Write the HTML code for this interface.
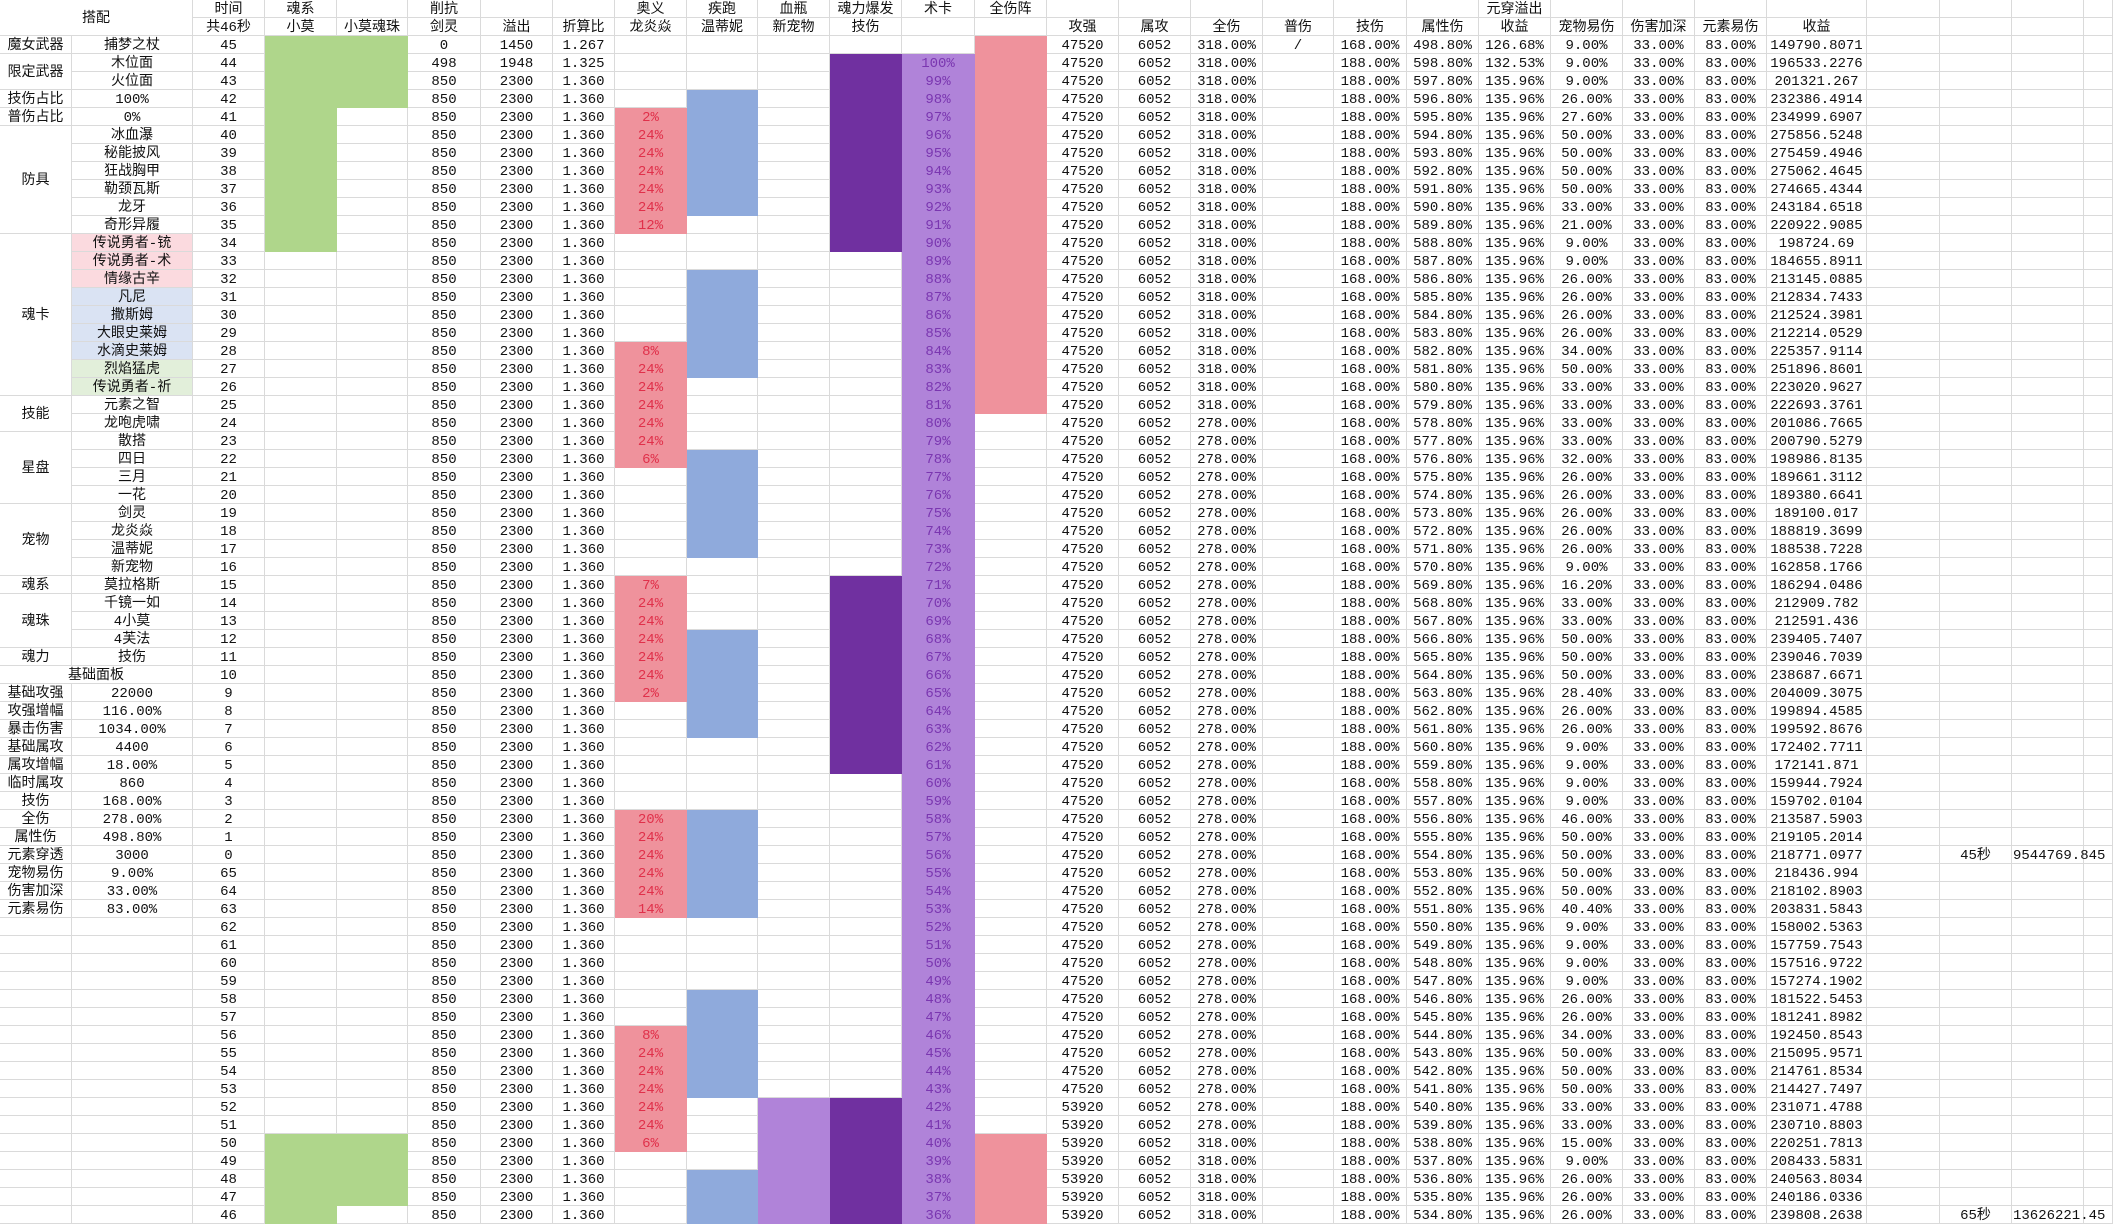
<!DOCTYPE html>
<html><head><meta charset="utf-8">
<style>
html,body{margin:0;padding:0;background:#fff;width:2113px;height:1226px;overflow:hidden}
table{border-collapse:separate;border-spacing:0;table-layout:fixed;width:2113px}
tr{height:18px}
td{box-sizing:border-box;height:18px;padding:3px 0 0 0;border-right:1px solid #dadada;border-bottom:1px solid #dadada;text-align:center;vertical-align:middle;white-space:nowrap;overflow:hidden;font-family:"Liberation Mono","Noto Sans CJK SC",sans-serif;font-size:14px;line-height:14px;color:#111}
.g{background:#afd68b;border-color:#afd68b}
.b{background:#8faadc;border-color:#8faadc}
.p{background:#ef929c;border-color:#ef929c;color:#e0304a}
.dp{background:#7030a0;border-color:#7030a0}
.lp{background:#b083d9;border-color:#b083d9;color:#7a36b0}
.k{background:#b083d9;border-color:#b083d9}
.pn{background:#fbdadf}
.bn{background:#dae3f3}
.gn{background:#e2efda}
.o{overflow:visible;text-align:left;padding-left:1px}
</style></head><body>
<table>
<colgroup>
<col style="width:72px"><col style="width:121px"><col style="width:72px"><col style="width:72px"><col style="width:71px"><col style="width:73px"><col style="width:72px"><col style="width:62px"><col style="width:72px"><col style="width:71px"><col style="width:72px"><col style="width:72px"><col style="width:73px"><col style="width:72px"><col style="width:72px"><col style="width:72px"><col style="width:72px"><col style="width:71px"><col style="width:73px"><col style="width:72px"><col style="width:72px"><col style="width:72px"><col style="width:72px"><col style="width:72px"><col style="width:100px"><col style="width:73px"><col style="width:72px"><col style="width:72px"><col style="width:29px">
</colgroup>
<tr><td colspan="2" rowspan="2" style="height:36px">搭配</td><td>时间</td><td>魂系</td><td></td><td>削抗</td><td></td><td></td><td>奥义</td><td>疾跑</td><td>血瓶</td><td>魂力爆发</td><td>术卡</td><td>全伤阵</td><td></td><td></td><td></td><td></td><td></td><td></td><td>元穿溢出</td><td></td><td></td><td></td><td></td><td></td><td></td><td></td><td></td></tr>
<tr><td>共46秒</td><td>小莫</td><td>小莫魂珠</td><td>剑灵</td><td>溢出</td><td>折算比</td><td>龙炎焱</td><td>温蒂妮</td><td>新宠物</td><td>技伤</td><td></td><td></td><td>攻强</td><td>属攻</td><td>全伤</td><td>普伤</td><td>技伤</td><td>属性伤</td><td>收益</td><td>宠物易伤</td><td>伤害加深</td><td>元素易伤</td><td>收益</td><td></td><td></td><td></td><td></td></tr>
<tr><td>魔女武器</td><td>捕梦之杖</td><td>45</td><td class="g"></td><td class="g"></td><td>0</td><td>1450</td><td>1.267</td><td></td><td></td><td></td><td></td><td></td><td class="p"></td><td>47520</td><td>6052</td><td>318.00%</td><td>/</td><td>168.00%</td><td>498.80%</td><td>126.68%</td><td>9.00%</td><td>33.00%</td><td>83.00%</td><td>149790.8071</td><td></td><td></td><td></td><td></td></tr>
<tr><td rowspan="2">限定武器</td><td>木位面</td><td>44</td><td class="g"></td><td class="g"></td><td>498</td><td>1948</td><td>1.325</td><td></td><td></td><td></td><td class="dp"></td><td class="lp">100%</td><td class="p"></td><td>47520</td><td>6052</td><td>318.00%</td><td></td><td>188.00%</td><td>598.80%</td><td>132.53%</td><td>9.00%</td><td>33.00%</td><td>83.00%</td><td>196533.2276</td><td></td><td></td><td></td><td></td></tr>
<tr><td>火位面</td><td>43</td><td class="g"></td><td class="g"></td><td>850</td><td>2300</td><td>1.360</td><td></td><td></td><td></td><td class="dp"></td><td class="lp">99%</td><td class="p"></td><td>47520</td><td>6052</td><td>318.00%</td><td></td><td>188.00%</td><td>597.80%</td><td>135.96%</td><td>9.00%</td><td>33.00%</td><td>83.00%</td><td>201321.267</td><td></td><td></td><td></td><td></td></tr>
<tr><td>技伤占比</td><td>100%</td><td>42</td><td class="g"></td><td class="g"></td><td>850</td><td>2300</td><td>1.360</td><td></td><td class="b"></td><td></td><td class="dp"></td><td class="lp">98%</td><td class="p"></td><td>47520</td><td>6052</td><td>318.00%</td><td></td><td>188.00%</td><td>596.80%</td><td>135.96%</td><td>26.00%</td><td>33.00%</td><td>83.00%</td><td>232386.4914</td><td></td><td></td><td></td><td></td></tr>
<tr><td>普伤占比</td><td>0%</td><td>41</td><td class="g"></td><td></td><td>850</td><td>2300</td><td>1.360</td><td class="p">2%</td><td class="b"></td><td></td><td class="dp"></td><td class="lp">97%</td><td class="p"></td><td>47520</td><td>6052</td><td>318.00%</td><td></td><td>188.00%</td><td>595.80%</td><td>135.96%</td><td>27.60%</td><td>33.00%</td><td>83.00%</td><td>234999.6907</td><td></td><td></td><td></td><td></td></tr>
<tr><td rowspan="6">防具</td><td>冰血瀑</td><td>40</td><td class="g"></td><td></td><td>850</td><td>2300</td><td>1.360</td><td class="p">24%</td><td class="b"></td><td></td><td class="dp"></td><td class="lp">96%</td><td class="p"></td><td>47520</td><td>6052</td><td>318.00%</td><td></td><td>188.00%</td><td>594.80%</td><td>135.96%</td><td>50.00%</td><td>33.00%</td><td>83.00%</td><td>275856.5248</td><td></td><td></td><td></td><td></td></tr>
<tr><td>秘能披风</td><td>39</td><td class="g"></td><td></td><td>850</td><td>2300</td><td>1.360</td><td class="p">24%</td><td class="b"></td><td></td><td class="dp"></td><td class="lp">95%</td><td class="p"></td><td>47520</td><td>6052</td><td>318.00%</td><td></td><td>188.00%</td><td>593.80%</td><td>135.96%</td><td>50.00%</td><td>33.00%</td><td>83.00%</td><td>275459.4946</td><td></td><td></td><td></td><td></td></tr>
<tr><td>狂战胸甲</td><td>38</td><td class="g"></td><td></td><td>850</td><td>2300</td><td>1.360</td><td class="p">24%</td><td class="b"></td><td></td><td class="dp"></td><td class="lp">94%</td><td class="p"></td><td>47520</td><td>6052</td><td>318.00%</td><td></td><td>188.00%</td><td>592.80%</td><td>135.96%</td><td>50.00%</td><td>33.00%</td><td>83.00%</td><td>275062.4645</td><td></td><td></td><td></td><td></td></tr>
<tr><td>勒颈瓦斯</td><td>37</td><td class="g"></td><td></td><td>850</td><td>2300</td><td>1.360</td><td class="p">24%</td><td class="b"></td><td></td><td class="dp"></td><td class="lp">93%</td><td class="p"></td><td>47520</td><td>6052</td><td>318.00%</td><td></td><td>188.00%</td><td>591.80%</td><td>135.96%</td><td>50.00%</td><td>33.00%</td><td>83.00%</td><td>274665.4344</td><td></td><td></td><td></td><td></td></tr>
<tr><td>龙牙</td><td>36</td><td class="g"></td><td></td><td>850</td><td>2300</td><td>1.360</td><td class="p">24%</td><td class="b"></td><td></td><td class="dp"></td><td class="lp">92%</td><td class="p"></td><td>47520</td><td>6052</td><td>318.00%</td><td></td><td>188.00%</td><td>590.80%</td><td>135.96%</td><td>33.00%</td><td>33.00%</td><td>83.00%</td><td>243184.6518</td><td></td><td></td><td></td><td></td></tr>
<tr><td>奇形异履</td><td>35</td><td class="g"></td><td></td><td>850</td><td>2300</td><td>1.360</td><td class="p">12%</td><td></td><td></td><td class="dp"></td><td class="lp">91%</td><td class="p"></td><td>47520</td><td>6052</td><td>318.00%</td><td></td><td>188.00%</td><td>589.80%</td><td>135.96%</td><td>21.00%</td><td>33.00%</td><td>83.00%</td><td>220922.9085</td><td></td><td></td><td></td><td></td></tr>
<tr><td rowspan="9">魂卡</td><td class="pn">传说勇者-铳</td><td>34</td><td class="g"></td><td></td><td>850</td><td>2300</td><td>1.360</td><td></td><td></td><td></td><td class="dp"></td><td class="lp">90%</td><td class="p"></td><td>47520</td><td>6052</td><td>318.00%</td><td></td><td>188.00%</td><td>588.80%</td><td>135.96%</td><td>9.00%</td><td>33.00%</td><td>83.00%</td><td>198724.69</td><td></td><td></td><td></td><td></td></tr>
<tr><td class="pn">传说勇者-术</td><td>33</td><td></td><td></td><td>850</td><td>2300</td><td>1.360</td><td></td><td></td><td></td><td></td><td class="lp">89%</td><td class="p"></td><td>47520</td><td>6052</td><td>318.00%</td><td></td><td>168.00%</td><td>587.80%</td><td>135.96%</td><td>9.00%</td><td>33.00%</td><td>83.00%</td><td>184655.8911</td><td></td><td></td><td></td><td></td></tr>
<tr><td class="pn">情缘古辛</td><td>32</td><td></td><td></td><td>850</td><td>2300</td><td>1.360</td><td></td><td class="b"></td><td></td><td></td><td class="lp">88%</td><td class="p"></td><td>47520</td><td>6052</td><td>318.00%</td><td></td><td>168.00%</td><td>586.80%</td><td>135.96%</td><td>26.00%</td><td>33.00%</td><td>83.00%</td><td>213145.0885</td><td></td><td></td><td></td><td></td></tr>
<tr><td class="bn">凡尼</td><td>31</td><td></td><td></td><td>850</td><td>2300</td><td>1.360</td><td></td><td class="b"></td><td></td><td></td><td class="lp">87%</td><td class="p"></td><td>47520</td><td>6052</td><td>318.00%</td><td></td><td>168.00%</td><td>585.80%</td><td>135.96%</td><td>26.00%</td><td>33.00%</td><td>83.00%</td><td>212834.7433</td><td></td><td></td><td></td><td></td></tr>
<tr><td class="bn">撒斯姆</td><td>30</td><td></td><td></td><td>850</td><td>2300</td><td>1.360</td><td></td><td class="b"></td><td></td><td></td><td class="lp">86%</td><td class="p"></td><td>47520</td><td>6052</td><td>318.00%</td><td></td><td>168.00%</td><td>584.80%</td><td>135.96%</td><td>26.00%</td><td>33.00%</td><td>83.00%</td><td>212524.3981</td><td></td><td></td><td></td><td></td></tr>
<tr><td class="bn">大眼史莱姆</td><td>29</td><td></td><td></td><td>850</td><td>2300</td><td>1.360</td><td></td><td class="b"></td><td></td><td></td><td class="lp">85%</td><td class="p"></td><td>47520</td><td>6052</td><td>318.00%</td><td></td><td>168.00%</td><td>583.80%</td><td>135.96%</td><td>26.00%</td><td>33.00%</td><td>83.00%</td><td>212214.0529</td><td></td><td></td><td></td><td></td></tr>
<tr><td class="bn">水滴史莱姆</td><td>28</td><td></td><td></td><td>850</td><td>2300</td><td>1.360</td><td class="p">8%</td><td class="b"></td><td></td><td></td><td class="lp">84%</td><td class="p"></td><td>47520</td><td>6052</td><td>318.00%</td><td></td><td>168.00%</td><td>582.80%</td><td>135.96%</td><td>34.00%</td><td>33.00%</td><td>83.00%</td><td>225357.9114</td><td></td><td></td><td></td><td></td></tr>
<tr><td class="gn">烈焰猛虎</td><td>27</td><td></td><td></td><td>850</td><td>2300</td><td>1.360</td><td class="p">24%</td><td class="b"></td><td></td><td></td><td class="lp">83%</td><td class="p"></td><td>47520</td><td>6052</td><td>318.00%</td><td></td><td>168.00%</td><td>581.80%</td><td>135.96%</td><td>50.00%</td><td>33.00%</td><td>83.00%</td><td>251896.8601</td><td></td><td></td><td></td><td></td></tr>
<tr><td class="gn">传说勇者-祈</td><td>26</td><td></td><td></td><td>850</td><td>2300</td><td>1.360</td><td class="p">24%</td><td></td><td></td><td></td><td class="lp">82%</td><td class="p"></td><td>47520</td><td>6052</td><td>318.00%</td><td></td><td>168.00%</td><td>580.80%</td><td>135.96%</td><td>33.00%</td><td>33.00%</td><td>83.00%</td><td>223020.9627</td><td></td><td></td><td></td><td></td></tr>
<tr><td rowspan="2">技能</td><td>元素之智</td><td>25</td><td></td><td></td><td>850</td><td>2300</td><td>1.360</td><td class="p">24%</td><td></td><td></td><td></td><td class="lp">81%</td><td class="p"></td><td>47520</td><td>6052</td><td>318.00%</td><td></td><td>168.00%</td><td>579.80%</td><td>135.96%</td><td>33.00%</td><td>33.00%</td><td>83.00%</td><td>222693.3761</td><td></td><td></td><td></td><td></td></tr>
<tr><td>龙咆虎啸</td><td>24</td><td></td><td></td><td>850</td><td>2300</td><td>1.360</td><td class="p">24%</td><td></td><td></td><td></td><td class="lp">80%</td><td></td><td>47520</td><td>6052</td><td>278.00%</td><td></td><td>168.00%</td><td>578.80%</td><td>135.96%</td><td>33.00%</td><td>33.00%</td><td>83.00%</td><td>201086.7665</td><td></td><td></td><td></td><td></td></tr>
<tr><td rowspan="4">星盘</td><td>散搭</td><td>23</td><td></td><td></td><td>850</td><td>2300</td><td>1.360</td><td class="p">24%</td><td></td><td></td><td></td><td class="lp">79%</td><td></td><td>47520</td><td>6052</td><td>278.00%</td><td></td><td>168.00%</td><td>577.80%</td><td>135.96%</td><td>33.00%</td><td>33.00%</td><td>83.00%</td><td>200790.5279</td><td></td><td></td><td></td><td></td></tr>
<tr><td>四日</td><td>22</td><td></td><td></td><td>850</td><td>2300</td><td>1.360</td><td class="p">6%</td><td class="b"></td><td></td><td></td><td class="lp">78%</td><td></td><td>47520</td><td>6052</td><td>278.00%</td><td></td><td>168.00%</td><td>576.80%</td><td>135.96%</td><td>32.00%</td><td>33.00%</td><td>83.00%</td><td>198986.8135</td><td></td><td></td><td></td><td></td></tr>
<tr><td>三月</td><td>21</td><td></td><td></td><td>850</td><td>2300</td><td>1.360</td><td></td><td class="b"></td><td></td><td></td><td class="lp">77%</td><td></td><td>47520</td><td>6052</td><td>278.00%</td><td></td><td>168.00%</td><td>575.80%</td><td>135.96%</td><td>26.00%</td><td>33.00%</td><td>83.00%</td><td>189661.3112</td><td></td><td></td><td></td><td></td></tr>
<tr><td>一花</td><td>20</td><td></td><td></td><td>850</td><td>2300</td><td>1.360</td><td></td><td class="b"></td><td></td><td></td><td class="lp">76%</td><td></td><td>47520</td><td>6052</td><td>278.00%</td><td></td><td>168.00%</td><td>574.80%</td><td>135.96%</td><td>26.00%</td><td>33.00%</td><td>83.00%</td><td>189380.6641</td><td></td><td></td><td></td><td></td></tr>
<tr><td rowspan="4">宠物</td><td>剑灵</td><td>19</td><td></td><td></td><td>850</td><td>2300</td><td>1.360</td><td></td><td class="b"></td><td></td><td></td><td class="lp">75%</td><td></td><td>47520</td><td>6052</td><td>278.00%</td><td></td><td>168.00%</td><td>573.80%</td><td>135.96%</td><td>26.00%</td><td>33.00%</td><td>83.00%</td><td>189100.017</td><td></td><td></td><td></td><td></td></tr>
<tr><td>龙炎焱</td><td>18</td><td></td><td></td><td>850</td><td>2300</td><td>1.360</td><td></td><td class="b"></td><td></td><td></td><td class="lp">74%</td><td></td><td>47520</td><td>6052</td><td>278.00%</td><td></td><td>168.00%</td><td>572.80%</td><td>135.96%</td><td>26.00%</td><td>33.00%</td><td>83.00%</td><td>188819.3699</td><td></td><td></td><td></td><td></td></tr>
<tr><td>温蒂妮</td><td>17</td><td></td><td></td><td>850</td><td>2300</td><td>1.360</td><td></td><td class="b"></td><td></td><td></td><td class="lp">73%</td><td></td><td>47520</td><td>6052</td><td>278.00%</td><td></td><td>168.00%</td><td>571.80%</td><td>135.96%</td><td>26.00%</td><td>33.00%</td><td>83.00%</td><td>188538.7228</td><td></td><td></td><td></td><td></td></tr>
<tr><td>新宠物</td><td>16</td><td></td><td></td><td>850</td><td>2300</td><td>1.360</td><td></td><td></td><td></td><td></td><td class="lp">72%</td><td></td><td>47520</td><td>6052</td><td>278.00%</td><td></td><td>168.00%</td><td>570.80%</td><td>135.96%</td><td>9.00%</td><td>33.00%</td><td>83.00%</td><td>162858.1766</td><td></td><td></td><td></td><td></td></tr>
<tr><td>魂系</td><td>莫拉格斯</td><td>15</td><td></td><td></td><td>850</td><td>2300</td><td>1.360</td><td class="p">7%</td><td></td><td></td><td class="dp"></td><td class="lp">71%</td><td></td><td>47520</td><td>6052</td><td>278.00%</td><td></td><td>188.00%</td><td>569.80%</td><td>135.96%</td><td>16.20%</td><td>33.00%</td><td>83.00%</td><td>186294.0486</td><td></td><td></td><td></td><td></td></tr>
<tr><td rowspan="3">魂珠</td><td>千镜一如</td><td>14</td><td></td><td></td><td>850</td><td>2300</td><td>1.360</td><td class="p">24%</td><td></td><td></td><td class="dp"></td><td class="lp">70%</td><td></td><td>47520</td><td>6052</td><td>278.00%</td><td></td><td>188.00%</td><td>568.80%</td><td>135.96%</td><td>33.00%</td><td>33.00%</td><td>83.00%</td><td>212909.782</td><td></td><td></td><td></td><td></td></tr>
<tr><td>4小莫</td><td>13</td><td></td><td></td><td>850</td><td>2300</td><td>1.360</td><td class="p">24%</td><td></td><td></td><td class="dp"></td><td class="lp">69%</td><td></td><td>47520</td><td>6052</td><td>278.00%</td><td></td><td>188.00%</td><td>567.80%</td><td>135.96%</td><td>33.00%</td><td>33.00%</td><td>83.00%</td><td>212591.436</td><td></td><td></td><td></td><td></td></tr>
<tr><td>4芙法</td><td>12</td><td></td><td></td><td>850</td><td>2300</td><td>1.360</td><td class="p">24%</td><td class="b"></td><td></td><td class="dp"></td><td class="lp">68%</td><td></td><td>47520</td><td>6052</td><td>278.00%</td><td></td><td>188.00%</td><td>566.80%</td><td>135.96%</td><td>50.00%</td><td>33.00%</td><td>83.00%</td><td>239405.7407</td><td></td><td></td><td></td><td></td></tr>
<tr><td>魂力</td><td>技伤</td><td>11</td><td></td><td></td><td>850</td><td>2300</td><td>1.360</td><td class="p">24%</td><td class="b"></td><td></td><td class="dp"></td><td class="lp">67%</td><td></td><td>47520</td><td>6052</td><td>278.00%</td><td></td><td>188.00%</td><td>565.80%</td><td>135.96%</td><td>50.00%</td><td>33.00%</td><td>83.00%</td><td>239046.7039</td><td></td><td></td><td></td><td></td></tr>
<tr><td colspan="2">基础面板</td><td>10</td><td></td><td></td><td>850</td><td>2300</td><td>1.360</td><td class="p">24%</td><td class="b"></td><td></td><td class="dp"></td><td class="lp">66%</td><td></td><td>47520</td><td>6052</td><td>278.00%</td><td></td><td>188.00%</td><td>564.80%</td><td>135.96%</td><td>50.00%</td><td>33.00%</td><td>83.00%</td><td>238687.6671</td><td></td><td></td><td></td><td></td></tr>
<tr><td>基础攻强</td><td>22000</td><td>9</td><td></td><td></td><td>850</td><td>2300</td><td>1.360</td><td class="p">2%</td><td class="b"></td><td></td><td class="dp"></td><td class="lp">65%</td><td></td><td>47520</td><td>6052</td><td>278.00%</td><td></td><td>188.00%</td><td>563.80%</td><td>135.96%</td><td>28.40%</td><td>33.00%</td><td>83.00%</td><td>204009.3075</td><td></td><td></td><td></td><td></td></tr>
<tr><td>攻强增幅</td><td>116.00%</td><td>8</td><td></td><td></td><td>850</td><td>2300</td><td>1.360</td><td></td><td class="b"></td><td></td><td class="dp"></td><td class="lp">64%</td><td></td><td>47520</td><td>6052</td><td>278.00%</td><td></td><td>188.00%</td><td>562.80%</td><td>135.96%</td><td>26.00%</td><td>33.00%</td><td>83.00%</td><td>199894.4585</td><td></td><td></td><td></td><td></td></tr>
<tr><td>暴击伤害</td><td>1034.00%</td><td>7</td><td></td><td></td><td>850</td><td>2300</td><td>1.360</td><td></td><td class="b"></td><td></td><td class="dp"></td><td class="lp">63%</td><td></td><td>47520</td><td>6052</td><td>278.00%</td><td></td><td>188.00%</td><td>561.80%</td><td>135.96%</td><td>26.00%</td><td>33.00%</td><td>83.00%</td><td>199592.8676</td><td></td><td></td><td></td><td></td></tr>
<tr><td>基础属攻</td><td>4400</td><td>6</td><td></td><td></td><td>850</td><td>2300</td><td>1.360</td><td></td><td></td><td></td><td class="dp"></td><td class="lp">62%</td><td></td><td>47520</td><td>6052</td><td>278.00%</td><td></td><td>188.00%</td><td>560.80%</td><td>135.96%</td><td>9.00%</td><td>33.00%</td><td>83.00%</td><td>172402.7711</td><td></td><td></td><td></td><td></td></tr>
<tr><td>属攻增幅</td><td>18.00%</td><td>5</td><td></td><td></td><td>850</td><td>2300</td><td>1.360</td><td></td><td></td><td></td><td class="dp"></td><td class="lp">61%</td><td></td><td>47520</td><td>6052</td><td>278.00%</td><td></td><td>188.00%</td><td>559.80%</td><td>135.96%</td><td>9.00%</td><td>33.00%</td><td>83.00%</td><td>172141.871</td><td></td><td></td><td></td><td></td></tr>
<tr><td>临时属攻</td><td>860</td><td>4</td><td></td><td></td><td>850</td><td>2300</td><td>1.360</td><td></td><td></td><td></td><td></td><td class="lp">60%</td><td></td><td>47520</td><td>6052</td><td>278.00%</td><td></td><td>168.00%</td><td>558.80%</td><td>135.96%</td><td>9.00%</td><td>33.00%</td><td>83.00%</td><td>159944.7924</td><td></td><td></td><td></td><td></td></tr>
<tr><td>技伤</td><td>168.00%</td><td>3</td><td></td><td></td><td>850</td><td>2300</td><td>1.360</td><td></td><td></td><td></td><td></td><td class="lp">59%</td><td></td><td>47520</td><td>6052</td><td>278.00%</td><td></td><td>168.00%</td><td>557.80%</td><td>135.96%</td><td>9.00%</td><td>33.00%</td><td>83.00%</td><td>159702.0104</td><td></td><td></td><td></td><td></td></tr>
<tr><td>全伤</td><td>278.00%</td><td>2</td><td></td><td></td><td>850</td><td>2300</td><td>1.360</td><td class="p">20%</td><td class="b"></td><td></td><td></td><td class="lp">58%</td><td></td><td>47520</td><td>6052</td><td>278.00%</td><td></td><td>168.00%</td><td>556.80%</td><td>135.96%</td><td>46.00%</td><td>33.00%</td><td>83.00%</td><td>213587.5903</td><td></td><td></td><td></td><td></td></tr>
<tr><td>属性伤</td><td>498.80%</td><td>1</td><td></td><td></td><td>850</td><td>2300</td><td>1.360</td><td class="p">24%</td><td class="b"></td><td></td><td></td><td class="lp">57%</td><td></td><td>47520</td><td>6052</td><td>278.00%</td><td></td><td>168.00%</td><td>555.80%</td><td>135.96%</td><td>50.00%</td><td>33.00%</td><td>83.00%</td><td>219105.2014</td><td></td><td></td><td></td><td></td></tr>
<tr><td>元素穿透</td><td>3000</td><td>0</td><td></td><td></td><td>850</td><td>2300</td><td>1.360</td><td class="p">24%</td><td class="b"></td><td></td><td></td><td class="lp">56%</td><td></td><td>47520</td><td>6052</td><td>278.00%</td><td></td><td>168.00%</td><td>554.80%</td><td>135.96%</td><td>50.00%</td><td>33.00%</td><td>83.00%</td><td>218771.0977</td><td></td><td>45秒</td><td class="o">9544769.845</td><td></td></tr>
<tr><td>宠物易伤</td><td>9.00%</td><td>65</td><td></td><td></td><td>850</td><td>2300</td><td>1.360</td><td class="p">24%</td><td class="b"></td><td></td><td></td><td class="lp">55%</td><td></td><td>47520</td><td>6052</td><td>278.00%</td><td></td><td>168.00%</td><td>553.80%</td><td>135.96%</td><td>50.00%</td><td>33.00%</td><td>83.00%</td><td>218436.994</td><td></td><td></td><td></td><td></td></tr>
<tr><td>伤害加深</td><td>33.00%</td><td>64</td><td></td><td></td><td>850</td><td>2300</td><td>1.360</td><td class="p">24%</td><td class="b"></td><td></td><td></td><td class="lp">54%</td><td></td><td>47520</td><td>6052</td><td>278.00%</td><td></td><td>168.00%</td><td>552.80%</td><td>135.96%</td><td>50.00%</td><td>33.00%</td><td>83.00%</td><td>218102.8903</td><td></td><td></td><td></td><td></td></tr>
<tr><td>元素易伤</td><td>83.00%</td><td>63</td><td></td><td></td><td>850</td><td>2300</td><td>1.360</td><td class="p">14%</td><td class="b"></td><td></td><td></td><td class="lp">53%</td><td></td><td>47520</td><td>6052</td><td>278.00%</td><td></td><td>168.00%</td><td>551.80%</td><td>135.96%</td><td>40.40%</td><td>33.00%</td><td>83.00%</td><td>203831.5843</td><td></td><td></td><td></td><td></td></tr>
<tr><td></td><td></td><td>62</td><td></td><td></td><td>850</td><td>2300</td><td>1.360</td><td></td><td></td><td></td><td></td><td class="lp">52%</td><td></td><td>47520</td><td>6052</td><td>278.00%</td><td></td><td>168.00%</td><td>550.80%</td><td>135.96%</td><td>9.00%</td><td>33.00%</td><td>83.00%</td><td>158002.5363</td><td></td><td></td><td></td><td></td></tr>
<tr><td></td><td></td><td>61</td><td></td><td></td><td>850</td><td>2300</td><td>1.360</td><td></td><td></td><td></td><td></td><td class="lp">51%</td><td></td><td>47520</td><td>6052</td><td>278.00%</td><td></td><td>168.00%</td><td>549.80%</td><td>135.96%</td><td>9.00%</td><td>33.00%</td><td>83.00%</td><td>157759.7543</td><td></td><td></td><td></td><td></td></tr>
<tr><td></td><td></td><td>60</td><td></td><td></td><td>850</td><td>2300</td><td>1.360</td><td></td><td></td><td></td><td></td><td class="lp">50%</td><td></td><td>47520</td><td>6052</td><td>278.00%</td><td></td><td>168.00%</td><td>548.80%</td><td>135.96%</td><td>9.00%</td><td>33.00%</td><td>83.00%</td><td>157516.9722</td><td></td><td></td><td></td><td></td></tr>
<tr><td></td><td></td><td>59</td><td></td><td></td><td>850</td><td>2300</td><td>1.360</td><td></td><td></td><td></td><td></td><td class="lp">49%</td><td></td><td>47520</td><td>6052</td><td>278.00%</td><td></td><td>168.00%</td><td>547.80%</td><td>135.96%</td><td>9.00%</td><td>33.00%</td><td>83.00%</td><td>157274.1902</td><td></td><td></td><td></td><td></td></tr>
<tr><td></td><td></td><td>58</td><td></td><td></td><td>850</td><td>2300</td><td>1.360</td><td></td><td class="b"></td><td></td><td></td><td class="lp">48%</td><td></td><td>47520</td><td>6052</td><td>278.00%</td><td></td><td>168.00%</td><td>546.80%</td><td>135.96%</td><td>26.00%</td><td>33.00%</td><td>83.00%</td><td>181522.5453</td><td></td><td></td><td></td><td></td></tr>
<tr><td></td><td></td><td>57</td><td></td><td></td><td>850</td><td>2300</td><td>1.360</td><td></td><td class="b"></td><td></td><td></td><td class="lp">47%</td><td></td><td>47520</td><td>6052</td><td>278.00%</td><td></td><td>168.00%</td><td>545.80%</td><td>135.96%</td><td>26.00%</td><td>33.00%</td><td>83.00%</td><td>181241.8982</td><td></td><td></td><td></td><td></td></tr>
<tr><td></td><td></td><td>56</td><td></td><td></td><td>850</td><td>2300</td><td>1.360</td><td class="p">8%</td><td class="b"></td><td></td><td></td><td class="lp">46%</td><td></td><td>47520</td><td>6052</td><td>278.00%</td><td></td><td>168.00%</td><td>544.80%</td><td>135.96%</td><td>34.00%</td><td>33.00%</td><td>83.00%</td><td>192450.8543</td><td></td><td></td><td></td><td></td></tr>
<tr><td></td><td></td><td>55</td><td></td><td></td><td>850</td><td>2300</td><td>1.360</td><td class="p">24%</td><td class="b"></td><td></td><td></td><td class="lp">45%</td><td></td><td>47520</td><td>6052</td><td>278.00%</td><td></td><td>168.00%</td><td>543.80%</td><td>135.96%</td><td>50.00%</td><td>33.00%</td><td>83.00%</td><td>215095.9571</td><td></td><td></td><td></td><td></td></tr>
<tr><td></td><td></td><td>54</td><td></td><td></td><td>850</td><td>2300</td><td>1.360</td><td class="p">24%</td><td class="b"></td><td></td><td></td><td class="lp">44%</td><td></td><td>47520</td><td>6052</td><td>278.00%</td><td></td><td>168.00%</td><td>542.80%</td><td>135.96%</td><td>50.00%</td><td>33.00%</td><td>83.00%</td><td>214761.8534</td><td></td><td></td><td></td><td></td></tr>
<tr><td></td><td></td><td>53</td><td></td><td></td><td>850</td><td>2300</td><td>1.360</td><td class="p">24%</td><td class="b"></td><td></td><td></td><td class="lp">43%</td><td></td><td>47520</td><td>6052</td><td>278.00%</td><td></td><td>168.00%</td><td>541.80%</td><td>135.96%</td><td>50.00%</td><td>33.00%</td><td>83.00%</td><td>214427.7497</td><td></td><td></td><td></td><td></td></tr>
<tr><td></td><td></td><td>52</td><td></td><td></td><td>850</td><td>2300</td><td>1.360</td><td class="p">24%</td><td></td><td class="k"></td><td class="dp"></td><td class="lp">42%</td><td></td><td>53920</td><td>6052</td><td>278.00%</td><td></td><td>188.00%</td><td>540.80%</td><td>135.96%</td><td>33.00%</td><td>33.00%</td><td>83.00%</td><td>231071.4788</td><td></td><td></td><td></td><td></td></tr>
<tr><td></td><td></td><td>51</td><td></td><td></td><td>850</td><td>2300</td><td>1.360</td><td class="p">24%</td><td></td><td class="k"></td><td class="dp"></td><td class="lp">41%</td><td></td><td>53920</td><td>6052</td><td>278.00%</td><td></td><td>188.00%</td><td>539.80%</td><td>135.96%</td><td>33.00%</td><td>33.00%</td><td>83.00%</td><td>230710.8803</td><td></td><td></td><td></td><td></td></tr>
<tr><td></td><td></td><td>50</td><td class="g"></td><td class="g"></td><td>850</td><td>2300</td><td>1.360</td><td class="p">6%</td><td></td><td class="k"></td><td class="dp"></td><td class="lp">40%</td><td class="p"></td><td>53920</td><td>6052</td><td>318.00%</td><td></td><td>188.00%</td><td>538.80%</td><td>135.96%</td><td>15.00%</td><td>33.00%</td><td>83.00%</td><td>220251.7813</td><td></td><td></td><td></td><td></td></tr>
<tr><td></td><td></td><td>49</td><td class="g"></td><td class="g"></td><td>850</td><td>2300</td><td>1.360</td><td></td><td></td><td class="k"></td><td class="dp"></td><td class="lp">39%</td><td class="p"></td><td>53920</td><td>6052</td><td>318.00%</td><td></td><td>188.00%</td><td>537.80%</td><td>135.96%</td><td>9.00%</td><td>33.00%</td><td>83.00%</td><td>208433.5831</td><td></td><td></td><td></td><td></td></tr>
<tr><td></td><td></td><td>48</td><td class="g"></td><td class="g"></td><td>850</td><td>2300</td><td>1.360</td><td></td><td class="b"></td><td class="k"></td><td class="dp"></td><td class="lp">38%</td><td class="p"></td><td>53920</td><td>6052</td><td>318.00%</td><td></td><td>188.00%</td><td>536.80%</td><td>135.96%</td><td>26.00%</td><td>33.00%</td><td>83.00%</td><td>240563.8034</td><td></td><td></td><td></td><td></td></tr>
<tr><td></td><td></td><td>47</td><td class="g"></td><td class="g"></td><td>850</td><td>2300</td><td>1.360</td><td></td><td class="b"></td><td class="k"></td><td class="dp"></td><td class="lp">37%</td><td class="p"></td><td>53920</td><td>6052</td><td>318.00%</td><td></td><td>188.00%</td><td>535.80%</td><td>135.96%</td><td>26.00%</td><td>33.00%</td><td>83.00%</td><td>240186.0336</td><td></td><td></td><td></td><td></td></tr>
<tr><td></td><td></td><td>46</td><td class="g"></td><td></td><td>850</td><td>2300</td><td>1.360</td><td></td><td class="b"></td><td class="k"></td><td class="dp"></td><td class="lp">36%</td><td class="p"></td><td>53920</td><td>6052</td><td>318.00%</td><td></td><td>188.00%</td><td>534.80%</td><td>135.96%</td><td>26.00%</td><td>33.00%</td><td>83.00%</td><td>239808.2638</td><td></td><td>65秒</td><td class="o">13626221.45</td><td></td></tr>
</table>
</body></html>
